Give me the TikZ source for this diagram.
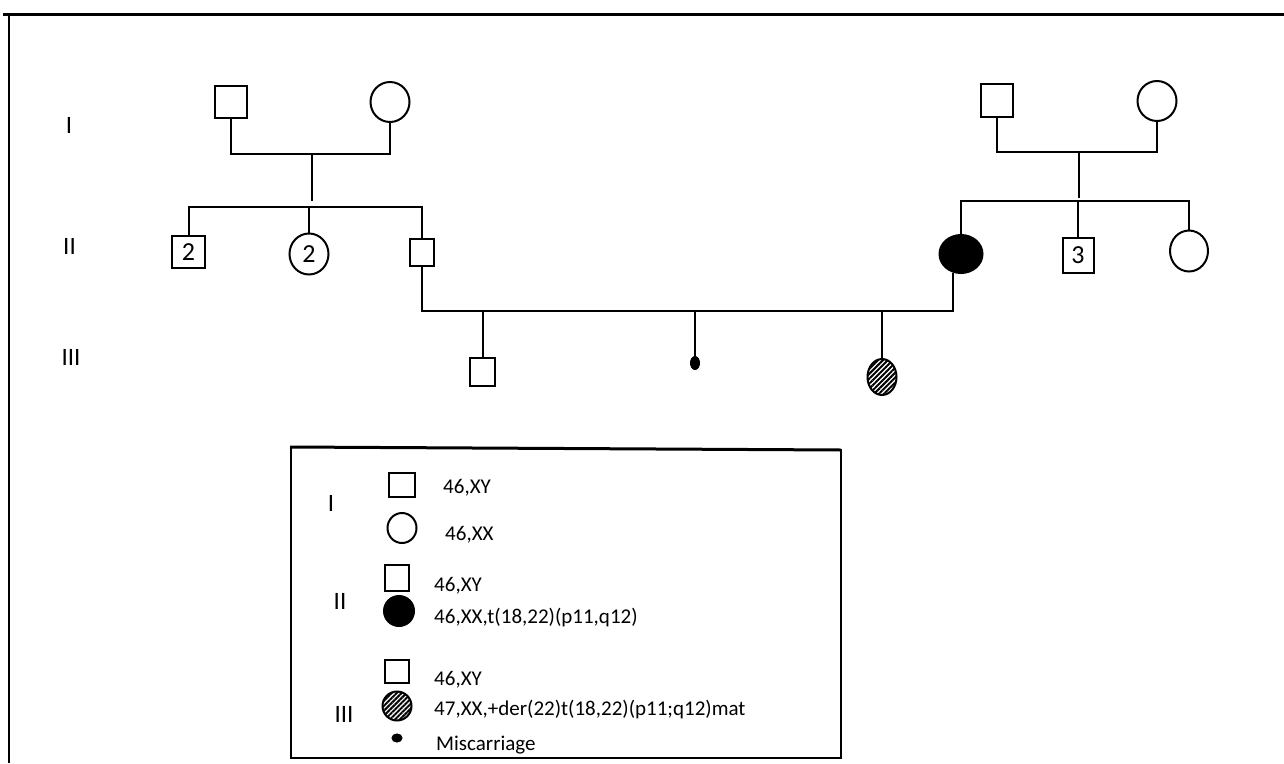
\documentclass[tikz,border=0pt]{standalone}
\usepackage{fontspec}
\setmainfont{Carlito}
\usetikzlibrary{shapes.geometric,patterns.meta}
\begin{document}
\begin{tikzpicture}[x=1pt,y=-1pt,
  ln/.style={line width=2pt},
  sq/.style={draw,line width=2pt,rectangle,inner sep=0pt,fill=white},
  fem/.style={draw,line width=2pt,ellipse,inner sep=0pt,fill=white},
  aff/.style={fem,fill=black},
  hatch/.style={draw,line width=2pt,ellipse,inner sep=0pt,pattern={Lines[angle=45,distance=3.5pt,line width=2pt]}},
  lab/.style={font=\fontsize{25}{30}\selectfont,inner sep=0pt},
  num/.style={font=\fontsize{26}{30}\selectfont},
  leg/.style={font=\fontsize{21}{25}\selectfont,anchor=base west,inner sep=0pt},
]
\useasboundingbox[fill=white] (0,0) rectangle (1284,763);

% outer frame
\draw[line width=3pt] (3,14) -- (1284,14);
\draw[line width=2pt] (9,14) -- (9,763);

% generation labels
\node[lab] (gI) at (69,125) {I};
\node[lab] (gII) at (69.5,246) {II};
\node[lab] (gIII) at (71,357) {III};

% left family
\node[sq,minimum width=32pt,minimum height=32pt] (I1) at (231,102) {};
\node[fem,minimum width=39pt,minimum height=40pt] (I2) at (390,102) {};
\coordinate (m1) at (312,154);
\draw[ln] (I1.south) |- (m1) -| (I2.south);
\coordinate (d1) at (312,201);
\draw[ln] (m1) -- (d1);

\node[sq,num,minimum width=33pt,minimum height=32pt] (II1) at (188.5,252) {2};
\node[fem,num,minimum width=39pt,minimum height=41pt] (II2) at (309,254) {2};
\node[sq,minimum width=24pt,minimum height=27pt] (II3) at (422,252.5) {};
\coordinate (s1) at (310,207);
\draw[ln] (II1.north) |- (s1) -| (II3.north);
\draw[ln] (II2.north) -- (II2.north |- s1);

% right family
\node[sq,minimum width=32pt,minimum height=33pt] (I3) at (997,100.5) {};
\node[fem,minimum width=39pt,minimum height=40pt] (I4) at (1157,101) {};
\coordinate (m2) at (1079,152);
\draw[ln] (I3.south) |- (m2) -| (I4.south);
\coordinate (d2) at (1079,198);
\draw[ln] (m2) -- (d2);

\node[aff,minimum width=43pt,minimum height=38pt] (II4) at (961,254) {};
\node[sq,num,minimum width=31pt,minimum height=35pt] (II5) at (1078,255.5) {3};
\node[fem,minimum width=38pt,minimum height=41pt] (II6) at (1189,251) {};
\coordinate (s2) at (1079,201);
\draw[ln] (II4.north) |- (s2) -| (II6.north);
\draw[ln] (II5.north) -- (II5.north |- s2);

% marriage II3 x II4
\coordinate (m3) at (688,311);
\draw[ln] (II3.south) |- (m3) -| (II4.246);

% generation III
\node[sq,minimum width=25pt,minimum height=28pt] (III1) at (482.5,372) {};
\node[draw,fill=black,ellipse,line width=1pt,inner sep=0pt,minimum width=9pt,minimum height=13pt] (III2) at (695,363) {};
\node[hatch,minimum width=29pt,minimum height=36pt] (III3) at (882,377) {};
\draw[ln] (III1.north) -- (III1.north |- m3);
\draw[ln] (III2.north) -- (III2.north |- m3);
\draw[ln] (III3.north) -- (III3.north |- m3);

% legend box
\draw[line width=3pt] (290,447) -- (841,450);
\draw[line width=2pt] (291,446) -- (291,758) -- (841,758) -- (841,449);

\node[lab] (lI) at (331,503) {I};
\node[sq,minimum width=26pt,minimum height=24pt] (lm1) at (402,485) {};
\node[leg] (lt1) at (443,493) {46,XY};
\node[fem,minimum width=29pt,minimum height=30pt] (lf1) at (402,528) {};
\node[leg] (lt2) at (445,540) {46,XX};

\node[lab] (lII) at (340,601) {II};
\node[sq,minimum width=24pt,minimum height=26pt] (lm2) at (397,578) {};
\node[leg] (lt3) at (434,591) {46,XY};
\node[aff,minimum width=30pt,minimum height=30pt] (lf2) at (399,611) {};
\node[leg] (lt4) at (434,623) {46,XX,t(18,22)(p11,q12)};

\node[lab] (lIII) at (344,714) {III};
\node[sq,minimum width=24pt,minimum height=23pt] (lm3) at (397,671.5) {};
\node[leg] (lt5) at (434,685) {46,XY};
\node[hatch,minimum width=29pt,minimum height=29pt] (lf3) at (397,706) {};
\node[leg] (lt6) at (434,715) {47,XX,+der(22)t(18,22)(p11;q12)mat};
\node[draw,fill=black,ellipse,line width=1pt,inner sep=0pt,minimum width=10pt,minimum height=8pt] (ld) at (397,738) {};
\node[leg] (lt7) at (436,750) {Miscarriage};
\end{tikzpicture}
\end{document}
